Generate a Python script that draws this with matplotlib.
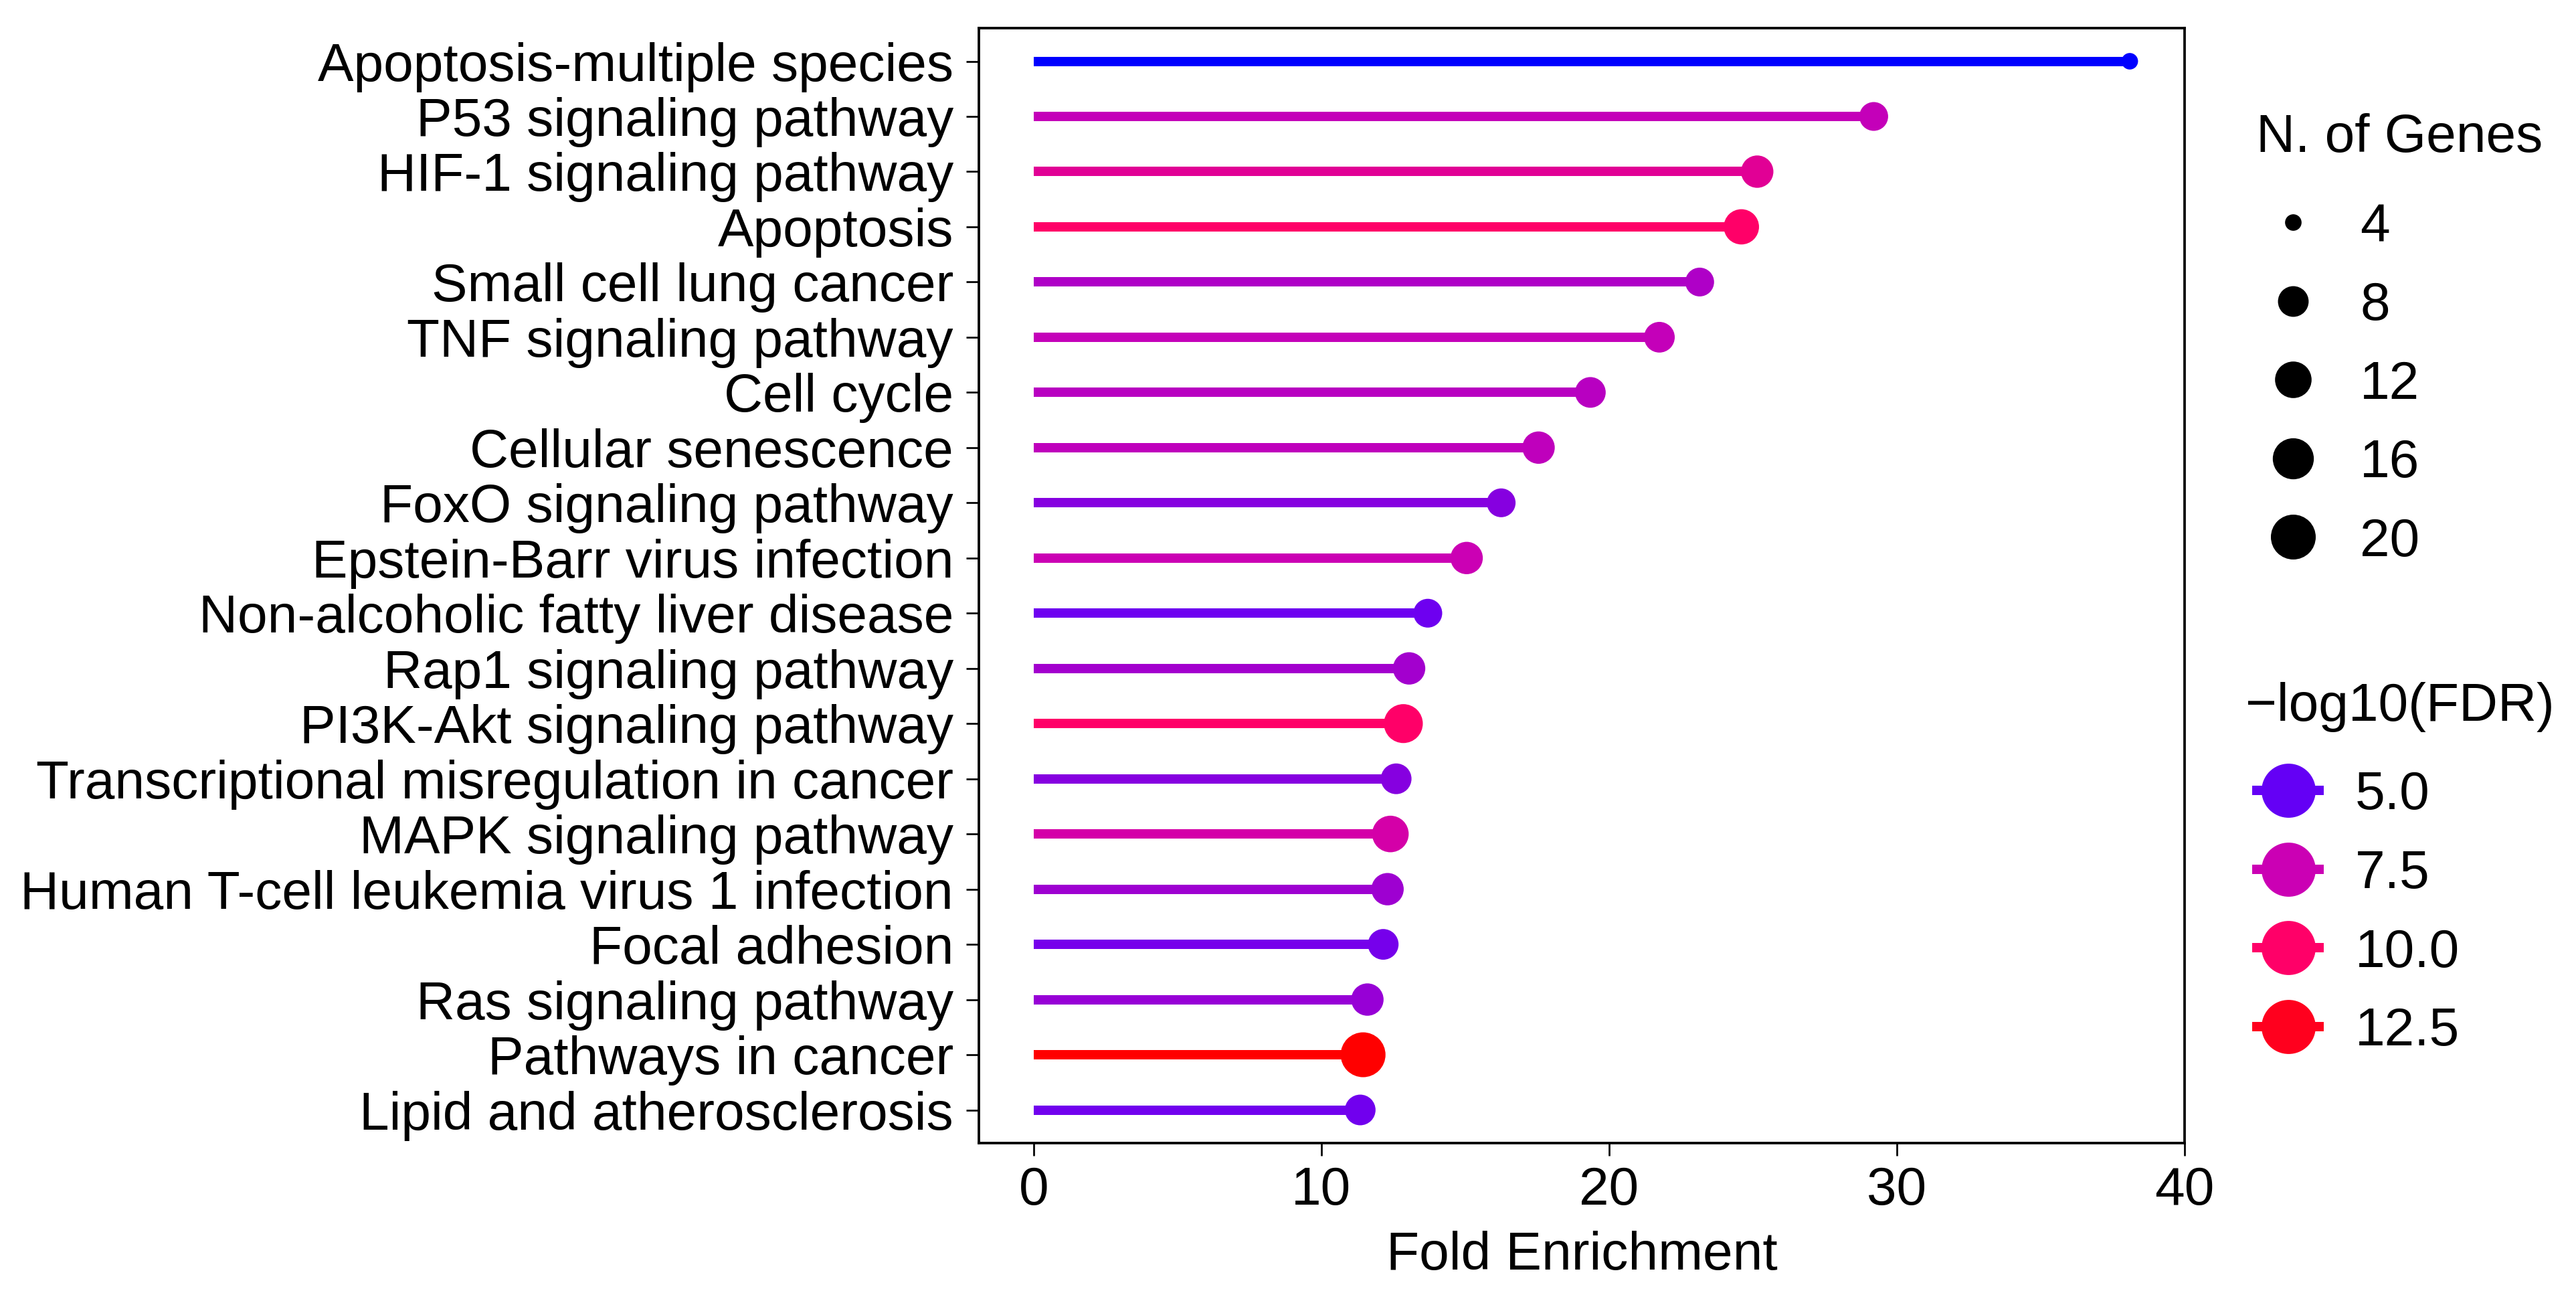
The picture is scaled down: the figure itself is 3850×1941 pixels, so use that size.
import numpy as np
import matplotlib
matplotlib.use("Agg")
import matplotlib.pyplot as plt
from matplotlib.colors import LinearSegmentedColormap, Normalize
from matplotlib.lines import Line2D

# ---------------- data ----------------
pathways = [
    "Apoptosis-multiple species",
    "P53 signaling pathway",
    "HIF-1 signaling pathway",
    "Apoptosis",
    "Small cell lung cancer",
    "TNF signaling pathway",
    "Cell cycle",
    "Cellular senescence",
    "FoxO signaling pathway",
    "Epstein-Barr virus infection",
    "Non-alcoholic fatty liver disease",
    "Rap1 signaling pathway",
    "PI3K-Akt signaling pathway",
    "Transcriptional misregulation in cancer",
    "MAPK signaling pathway",
    "Human T-cell leukemia virus 1 infection",
    "Focal adhesion",
    "Ras signaling pathway",
    "Pathways in cancer",
    "Lipid and atherosclerosis",
]
fold_enrichment = [38.1, 29.2, 25.15, 24.6, 23.15, 21.75, 19.35, 17.55, 16.25, 15.05,
                   13.7, 13.05, 12.85, 12.6, 12.4, 12.3, 12.15, 11.6, 11.45, 11.35]
n_genes = [4, 7, 9, 11, 7, 8, 8, 9, 7, 9, 7, 9, 14, 8, 12, 9, 8, 9, 20, 8]
neg_log10_fdr = [3.8, 7.3, 8.5, 10.0, 6.8, 7.3, 7.0, 7.2, 5.8, 7.5,
                 5.2, 6.5, 10.0, 5.8, 7.9, 6.4, 5.4, 6.2, 13.2, 5.3]

size_breaks = [4, 8, 12, 16, 20]
color_breaks = [5.0, 7.5, 10.0, 12.5]

# ---------------- style ----------------
DPI = 300
W, H = 3850, 1941
FS = 19.25
plt.rcParams['font.family'] = ['Liberation Sans', 'DejaVu Sans']
plt.rcParams['axes.unicode_minus'] = True

vmin, vmax = min(neg_log10_fdr), max(neg_log10_fdr)
node_vals = [vmin, 5.0, 7.5, 10.0, 12.5, vmax]
node_cols = ['#0000FF', '#6600F5', '#CC00B4', '#FF0068', '#FF001E', '#FF0000']
positions = [(v - vmin) / (vmax - vmin) for v in node_vals]
cmap = LinearSegmentedColormap.from_list('fdr', list(zip(positions, node_cols)))
norm = Normalize(vmin, vmax)

nmin, nmax = min(n_genes), max(n_genes)


def diam_pt(n):
    s = 2 + 4 * np.sqrt((np.asarray(n, dtype=float) - nmin) / (nmax - nmin))
    px = 3.72 * (2.845 * s + 0.945)
    return px * 72.0 / DPI


LW = 14 * 72.0 / DPI

fig = plt.figure(figsize=(W / DPI, H / DPI), dpi=DPI)
ax = fig.add_axes([0.38, 0.12004, 0.46805, 0.8583])

y = np.arange(len(pathways))
cols = cmap(norm(neg_log10_fdr))
ax.hlines(y, 0, fold_enrichment, colors=cols, linewidth=LW, capstyle='butt', zorder=2)
ax.scatter(fold_enrichment, y, s=diam_pt(n_genes) ** 2, c=cols, linewidths=0, zorder=3)

ax.margins(x=0.05)
ax.set_ylim(len(pathways) - 0.4, -0.6)
ax.set_xticks([0, 10, 20, 30, 40])
ax.set_yticks(y)
ax.set_yticklabels(pathways)
ax.tick_params(axis='both', labelsize=FS, length=19 * 72 / DPI, width=0.65, colors='black')
ax.tick_params(axis='y', pad=19 * 72 / DPI)
ax.tick_params(axis='x', pad=15 * 72 / DPI)
for sp in ax.spines.values():
    sp.set_linewidth(0.9)
ax.set_xlabel("Fold Enrichment", fontsize=FS, labelpad=5.2)

# ---------------- legends ----------------
fig.text(3372 / W, 1 - 227 / H, 'N. of Genes', fontsize=FS, ha='left', va='baseline')
size_handles = [Line2D([], [], ls='none', marker='o', color='black',
                       markersize=float(diam_pt(b)), mew=0) for b in size_breaks]
leg1 = fig.legend(size_handles, [str(b) for b in size_breaks],
                  loc='upper left', bbox_to_anchor=(0.878, 1 - 302.5 / H), frameon=False,
                  fontsize=FS, handlelength=1.17, handletextpad=0.66,
                  labelspacing=0.53, borderpad=0, borderaxespad=0)

fig.text(3356 / W, 1 - 1077 / H, '\u2212log10(FDR)', fontsize=FS, ha='left', va='baseline')
color_handles = [Line2D([0, 1], [0, 0], color=cmap(norm(v)), lw=LW, marker='o',
                        markersize=19.4, mew=0) for v in color_breaks]
leg2 = fig.legend(color_handles, [f"{v:.1f}" for v in color_breaks],
                  loc='upper left', bbox_to_anchor=(0.876, 1 - 1151.5 / H), frameon=False,
                  fontsize=FS, handlelength=1.17, handletextpad=0.66,
                  labelspacing=0.53, borderpad=0, borderaxespad=0)

fig.savefig('out.png', dpi=DPI)
